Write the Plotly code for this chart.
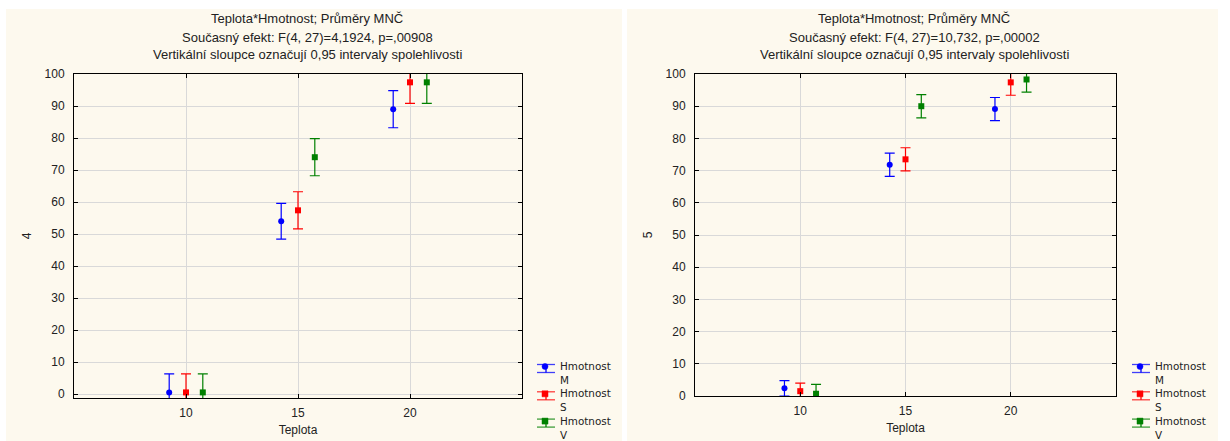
import plotly.graph_objects as go

# ---- data ----
teplota = [10, 15, 20]
groups = ["M", "S", "V"]
offsets = [-0.75, 0.0, 0.75]
colors = ["#0000FF", "#FF0000", "#008000"]
symbols = ["circle", "square", "square"]

# panel "4"
mean4_M = [0.5, 54.0, 89.0]
mean4_S = [0.5, 57.4, 97.4]
mean4_V = [0.5, 74.0, 97.4]
ci4_M = [5.8, 5.6, 5.8]
ci4_S = [5.8, 5.8, 6.6]
ci4_V = [5.8, 5.8, 6.6]

# panel "5"
mean5_M = [2.4, 71.8, 89.1]
mean5_S = [1.5, 73.5, 97.4]
mean5_V = [0.7, 90.0, 98.3]
ci5_M = [2.4, 3.6, 3.6]
ci5_S = [2.5, 3.6, 4.0]
ci5_V = [2.9, 3.6, 3.9]

titles4 = ["Teplota*Hmotnost; Průměry MNČ",
           "Současný efekt: F(4, 27)=4,1924, p=,00908",
           "Vertikální sloupce označují 0,95 intervaly spolehlivosti"]
titles5 = ["Teplota*Hmotnost; Průměry MNČ",
           "Současný efekt: F(4, 27)=10,732, p=,00002",
           "Vertikální sloupce označují 0,95 intervaly spolehlivosti"]
legend_word = "Hmotnost"

W, H = 1230, 441
FONT = "Liberation Sans, Arial, sans-serif"
LEG_FONT = "DejaVu Sans, Liberation Sans, sans-serif"
CREAM = "#FDF9EE"
TXT = "#222222"

fig = go.Figure()

panels = [
    ([mean4_M, mean4_S, mean4_V], [ci4_M, ci4_S, ci4_V], "x", "y"),
    ([mean5_M, mean5_S, mean5_V], [ci5_M, ci5_S, ci5_V], "x2", "y2"),
]
for means, cis, xa, ya in panels:
    for g, off, col, sym, m, c in zip(groups, offsets, colors, symbols, means, cis):
        fig.add_trace(go.Scatter(
            x=[t + off for t in teplota], y=m,
            mode="markers",
            marker=dict(color=col, symbol=sym, size=6),
            error_y=dict(type="data", array=c, visible=True, color=col,
                         thickness=1.2, width=5),
            name=f"{legend_word} {g}",
            xaxis=xa, yaxis=ya, showlegend=False,
        ))

def px_x(p):
    return p / W

def px_y(p):
    return 1 - p / H

# cream panel backgrounds
for x0, x1 in [(6, 622), (627, 1218)]:
    fig.add_shape(type="rect", xref="paper", yref="paper",
                  x0=px_x(x0), x1=px_x(x1), y0=0, y1=px_y(9),
                  fillcolor=CREAM, line=dict(width=0), layer="below")

# titles
for cx, lines in [(307, titles4), (914, titles5)]:
    for i, ln in enumerate(lines):
        fig.add_annotation(text=ln, xref="paper", yref="paper",
                           x=px_x(cx), y=px_y(19 + 18 * i), showarrow=False,
                           xanchor="center", yanchor="middle",
                           font=dict(size=13, color=TXT, family=FONT))

# legends (Statistica-style: error-bar glyph + two-line label)
def add_legend(x_icon, y_center0):
    for i, (g, col, sym) in enumerate(zip(groups, colors, symbols)):
        yc = y_center0 + 27.3 * i      # centre of the two-line label
        y1 = yc - 6.5                   # first text line
        for yy in (y1 - 2, y1 + 6):
            fig.add_shape(type="line", xref="paper", yref="paper",
                          x0=px_x(x_icon), x1=px_x(x_icon + 18),
                          y0=px_y(yy), y1=px_y(yy),
                          line=dict(color=col, width=1.3), opacity=0.75)
        fig.add_shape(type="line", xref="paper", yref="paper",
                      x0=px_x(x_icon + 9), x1=px_x(x_icon + 9),
                      y0=px_y(y1 - 2), y1=px_y(y1 + 6),
                      line=dict(color=col, width=1.3))
        fig.add_shape(type="circle" if sym == "circle" else "rect",
                      xref="paper", yref="paper",
                      x0=px_x(x_icon + 5), x1=px_x(x_icon + 11),
                      y0=px_y(y1 - 3), y1=px_y(y1 + 3),
                      fillcolor=col, line=dict(color=col, width=0.5))
        fig.add_annotation(text=f"{legend_word}<br>{g}", xref="paper", yref="paper",
                           x=px_x(x_icon + 22), y=px_y(yc), showarrow=False,
                           xanchor="left", yanchor="middle", align="left",
                           borderpad=0,
                           font=dict(size=10.4, color=TXT, family=LEG_FONT))

add_legend(537, 373)
add_legend(1132, 373)

axis_common = dict(showline=True, linecolor="black", linewidth=1, mirror="ticks",
                   ticks="inside", ticklen=4, tickcolor="black",
                   showgrid=True, gridcolor="#D9D9D9", gridwidth=1, zeroline=False,
                   tickfont=dict(size=12, color=TXT, family=FONT))

fig.update_layout(
    width=W, height=H,
    margin=dict(l=0, r=0, t=0, b=0, autoexpand=False),
    paper_bgcolor="white", plot_bgcolor="white",
    font=dict(family=FONT, size=11, color=TXT),
    showlegend=False,
    xaxis=dict(domain=[px_x(74), px_x(522)], range=[5, 25], tickvals=teplota,
               ticklabelstandoff=4,
               title=dict(text="Teplota", font=dict(size=12), standoff=6),
               anchor="y", **axis_common),
    yaxis=dict(domain=[px_y(398), px_y(74)], range=[-1.25, 100], dtick=10,
               ticklabelstandoff=6,
               title=dict(text="4", font=dict(size=12), standoff=10),
               anchor="x", **axis_common),
    xaxis2=dict(domain=[px_x(695), px_x(1116)], range=[5, 25], tickvals=teplota,
                ticklabelstandoff=4,
                title=dict(text="Teplota", font=dict(size=12), standoff=6),
                anchor="y2", **axis_common),
    yaxis2=dict(domain=[px_y(396), px_y(74)], range=[0, 100], dtick=10,
                ticklabelstandoff=6,
                title=dict(text="5", font=dict(size=12), standoff=10),
                anchor="x2", **axis_common),
)

fig.write_html("out.html", config={"displayModeBar": False},
               post_script="document.body.style.margin='0';")
